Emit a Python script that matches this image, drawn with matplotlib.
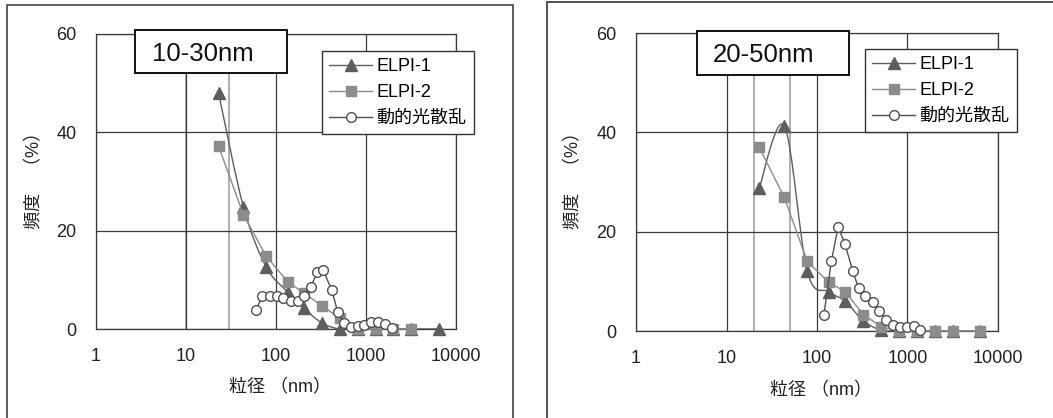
import numpy as np
import matplotlib
matplotlib.use("Agg")
import matplotlib.pyplot as plt
from matplotlib.path import Path
from matplotlib.patches import PathPatch, Rectangle
from matplotlib.lines import Line2D
from matplotlib.ticker import NullLocator

plt.rcParams['font.family'] = ['Liberation Sans', 'Noto Sans CJK JP']

# ---------------- data ----------------
elpi_sizes = [23, 43.5, 78, 135, 205, 325, 510, 810, 1280, 2000, 3150, 6400]

# panel A : 10-30nm
titleA = "10-30nm"
rangeA = [10, 30]
elpi1_A = [48.0, 24.8, 12.6, 7.5, 4.2, 1.2, 0, 0, 0, 0, 0, 0]
elpi2_A = [37.2, 23.2, 14.8, 9.6, 7.3, 4.7, 2.2, 0, 0, 0, 0]          # ends at 3150 nm
dls_x_A = [60, 70.5, 86, 102, 120.5, 145.5, 174, 205, 243, 288, 336,
           416, 485, 574, 681, 820, 957, 1138, 1371, 1626, 1959]
dls_A = [3.9, 6.7, 6.7, 6.7, 6.4, 5.7, 5.7, 6.7, 8.6, 11.5, 11.9,
         7.9, 3.5, 1.3, 0.5, 0.6, 0.8, 1.5, 1.5, 1.0, 0.15]

# panel B : 20-50nm
titleB = "20-50nm"
rangeB = [20, 50]
elpi1_B = [28.8, 41.3, 12.0, 7.9, 6.0, 2.05, 0.2, 0, 0, 0, 0, 0]
elpi2_B = [37.0, 26.9, 14.0, 9.8, 7.9, 3.3, 0.9, 0, 0, 0, 0, 0]
dls_x_B = [119, 144, 171, 204, 248, 288, 336, 414, 483, 585, 695, 826,
           982, 1167, 1387]
dls_B = [3.2, 14.0, 20.9, 17.5, 12.1, 8.6, 7.1, 5.8, 4.0, 2.3, 1.2, 0.9,
         0.9, 1.0, 0.3]

series_labels = ["ELPI-1", "ELPI-2", "動的光散乱"]
xtick_vals = [1, 10, 100, 1000, 10000]
xtick_labels = ["1", "10", "100", "1000", "10000"]
ytick_vals = [0, 20, 40, 60]
ylabel = "頻度　（%）"
xlabel = "粒径 （nm）"

# ---------------- style ----------------
W, H = 1053, 418
C1 = "#5e5e5e"
C2 = "#8c8c8c"
C3 = "#505050"

fig = plt.figure(figsize=(W / 100, H / 100), dpi=100)


def fx(px):
    return px / W


def fy(py):
    return 1 - py / H


def smooth_path(xs, ys):
    lx = np.log10(np.asarray(xs, float))
    y = np.asarray(ys, float)
    n = len(lx)
    verts = [(xs[0], y[0])]
    codes = [Path.MOVETO]
    for i in range(n - 1):
        p0 = i - 1 if i > 0 else i
        p3 = i + 2 if i + 2 < n else i + 1
        c1x = lx[i] + (lx[i + 1] - lx[p0]) / 6
        c1y = y[i] + (y[i + 1] - y[p0]) / 6
        c2x = lx[i + 1] - (lx[p3] - lx[i]) / 6
        c2y = y[i + 1] - (y[p3] - y[i]) / 6
        verts += [(10 ** c1x, c1y), (10 ** c2x, c2y), (xs[i + 1], y[i + 1])]
        codes += [Path.CURVE4] * 3
    return Path(verts, codes)


def panel(axrect, title, rng, e1, e2, dx, dy, box, title_xy, legend_xy,
          ylab_xy, xlab_xy):
    ax = fig.add_axes(axrect)
    ax.set_xscale('log')
    ax.set_xlim(1, 10000)
    ax.set_ylim(0, 60)
    ax.set_xticks(xtick_vals)
    ax.set_xticklabels(xtick_labels)
    ax.xaxis.set_minor_locator(NullLocator())
    ax.set_yticks(ytick_vals)
    ax.tick_params(length=0, labelsize=13, pad=14, colors="#222")
    ax.set_axisbelow(True)
    ax.grid(True, color="#3a3a3a", lw=0.9, zorder=0.5)
    for s in ax.spines.values():
        s.set_color("#3a3a3a")
        s.set_linewidth(0.9)
    for v in rng:
        ax.axvline(v, color="#a8a8a8", lw=1.3, zorder=0.4)

    # ELPI-1 smoothed line
    ax.add_patch(PathPatch(smooth_path(elpi_sizes[:len(e1)], e1), fill=False,
                           ec=C1, lw=1.0, zorder=2, transform=ax.transData))
    ax.plot(elpi_sizes[:len(e1)], e1, ls='none', marker='^', ms=8.5, color=C1,
            mec=C1, zorder=3, clip_on=False)
    ax.plot(elpi_sizes[:len(e2)], e2, '-', marker='s', ms=7.4, color=C2,
            mec=C2, lw=1.0, zorder=4, clip_on=False)
    ax.plot(dx, dy, '-', marker='o', ms=7, color=C3, mfc='white', mec=C3,
            mew=1.0, lw=1.0, zorder=5, clip_on=False)

    # title box
    x0, y0, x1, y1 = box
    fig.add_artist(Rectangle((fx(x0), fy(y1)), (x1 - x0) / W, (y1 - y0) / H,
                             transform=fig.transFigure, fc='white', ec='#111',
                             lw=1.4, zorder=6))
    fig.text(fx(title_xy[0]), fy(title_xy[1]), title, fontsize=18.5,
             ha='left', va='center', zorder=7, color="#111")

    handles = [
        Line2D([], [], color=C1, marker='^', ms=8.5, lw=1.0),
        Line2D([], [], color=C2, marker='s', ms=7.4, lw=1.0),
        Line2D([], [], color=C3, marker='o', ms=7, mfc='white', mew=1.0,
               lw=1.0),
    ]
    leg = fig.legend(handles, series_labels, loc='upper left',
                     bbox_to_anchor=(fx(legend_xy[0]), fy(legend_xy[1])),
                     borderaxespad=0, fontsize=13, frameon=True,
                     fancybox=False, framealpha=1, edgecolor='#333',
                     handlelength=2.4, handletextpad=0.25, borderpad=0.38,
                     labelspacing=0.5)
    leg.get_frame().set_linewidth(1.0)
    leg.set_zorder(8)

    fig.text(fx(ylab_xy[0]), fy(ylab_xy[1]), ylabel, rotation=90,
             fontsize=13, ha='center', va='center', color="#222")
    fig.text(fx(xlab_xy[0]), fy(xlab_xy[1]), xlabel, fontsize=13,
             ha='center', va='center', color="#222")
    return ax


# outer panel frames
fig.add_artist(Rectangle((fx(6.5), fy(430)), (513 - 6.5) / W, (430 - 5) / H,
                         transform=fig.transFigure, fill=False, ec='#444',
                         lw=1.2, zorder=-1))
fig.add_artist(Rectangle((fx(546.5), fy(430)), (1080 - 546.5) / W,
                         (430 - 2.5) / H, transform=fig.transFigure,
                         fill=False, ec='#333', lw=1.2, zorder=-1))

panel([fx(96), fy(329), 360 / W, 295 / H], titleA, rangeA, elpi1_A, elpi2_A,
      dls_x_A, dls_A, (135, 30, 287, 73), (152, 54), (322, 51), (35, 176),
      (280, 388))
panel([fx(636), fy(331), 362 / W, 298 / H], titleB, rangeB, elpi1_B, elpi2_B,
      dls_x_B, dls_B, (697, 31, 849, 75), (713, 55), (865, 49), (574, 176),
      (821, 391))

fig.savefig("out.png", dpi=100)
